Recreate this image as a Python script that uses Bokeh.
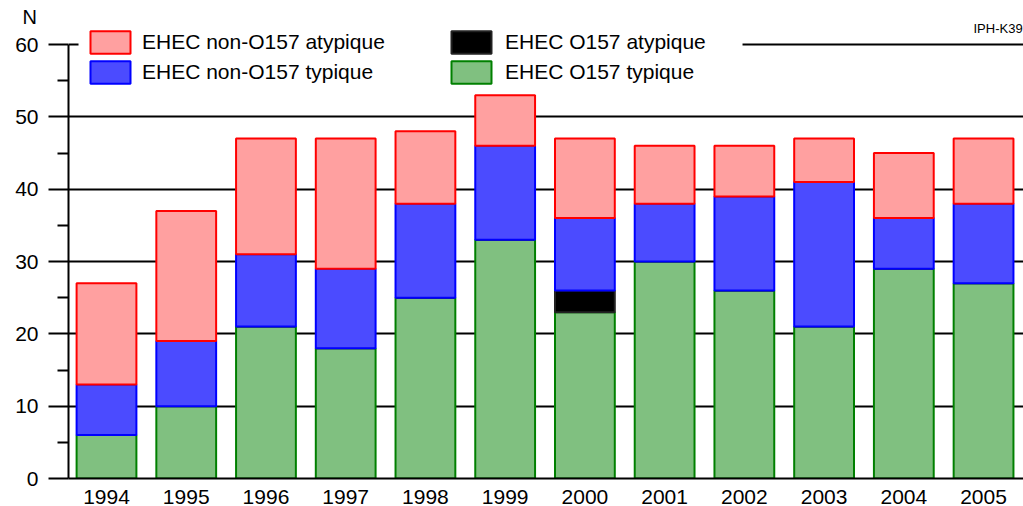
from bokeh.plotting import figure
from bokeh.models import (ColumnDataSource, Range1d, FixedTicker, Legend, LegendItem,
                          BoxAnnotation, Label)
from bokeh.embed import file_html
from bokeh.resources import INLINE

years = ["1994", "1995", "1996", "1997", "1998", "1999", "2000", "2001", "2002", "2003", "2004", "2005"]
o157_typique = [6, 10, 21, 18, 25, 33, 23, 30, 26, 21, 29, 27]
o157_atypique = [0, 0, 0, 0, 0, 0, 3, 0, 0, 0, 0, 0]
non_o157_typique = [7, 9, 10, 11, 13, 13, 10, 8, 13, 20, 7, 11]
non_o157_atypique = [14, 18, 16, 18, 10, 7, 11, 8, 7, 6, 9, 9]
y_ticks = [0, 10, 20, 30, 40, 50, 60]
y_minor = [5, 15, 25, 35, 45, 55]

FONT = "Liberation Sans"
xpos = [int(y) for y in years]
src = ColumnDataSource(dict(x=xpos, o157_typ=o157_typique, o157_atyp=o157_atypique,
                            non_typ=non_o157_typique, non_atyp=non_o157_atypique))

p = figure(width=1023, height=506, output_backend="svg", toolbar_location=None,
           x_range=Range1d(1993.5234, 2005.501), y_range=Range1d(0, 63.32),
           min_border_left=68, min_border_top=20, min_border_right=0, min_border_bottom=28,
           title="N")
p.outline_line_color = None
p.title.text_font = FONT
p.title.text_font_size = "20px"
p.title.text_font_style = "normal"
p.title.text_color = "black"
p.title.align = "left"
p.title.offset = -54
p.title.standoff = -14
p.title.padding = (8, 0, 0, 0)

stack = ["o157_typ", "o157_atyp", "non_typ", "non_atyp"]
fills = ["#80C080", "#000000", "#4B4BFF", "#FFA0A0"]
lines = ["#008000", "#222222", "#0000FF", "#FF0000"]
rs = p.vbar_stack(stack, x="x", width=0.75, source=src, fill_color=fills,
                  line_color=lines, line_width=2)

# axes
p.xaxis.ticker = FixedTicker(ticks=xpos)
p.xaxis.major_label_overrides = {x: y for x, y in zip(xpos, years)}
p.xaxis.major_tick_out = 0
p.xaxis.major_tick_in = 0
p.xaxis.minor_tick_out = 0
p.xaxis.axis_line_width = 2
p.xaxis.axis_line_color = "black"
p.xaxis.major_label_text_font = FONT
p.xaxis.major_label_text_font_size = "21px"
p.xaxis.major_label_text_color = "black"
p.xaxis.major_label_standoff = 11

p.yaxis.ticker = FixedTicker(ticks=y_ticks, minor_ticks=y_minor)
p.yaxis.bounds = (0, 60)
p.yaxis.major_tick_out = 20
p.yaxis.major_tick_in = 0
p.yaxis.minor_tick_out = 11
p.yaxis.minor_tick_in = 0
p.yaxis.major_tick_line_width = 2
p.yaxis.minor_tick_line_width = 2
p.yaxis.axis_line_width = 2
p.yaxis.major_label_text_font = FONT
p.yaxis.major_label_text_font_size = "21px"
p.yaxis.major_label_text_color = "black"
p.yaxis.major_label_standoff = 10

p.xgrid.visible = False
p.ygrid.ticker = FixedTicker(ticks=y_ticks)
p.ygrid.grid_line_color = "black"
p.ygrid.grid_line_width = 2

# white area behind legend hiding the 60 line
p.add_layout(BoxAnnotation(left=1993.649, right=2001.977, bottom=53.92, top=70,
                           fill_color="white", fill_alpha=1, line_color=None))

def mk_legend(items, x, ybottom, standoff):
    return Legend(items=items, location=(x, 478 - ybottom), orientation="vertical",
                  label_text_font=FONT, label_text_font_size="21px", label_text_color="black",
                  glyph_width=50, glyph_height=28, label_standoff=standoff, spacing=2,
                  padding=0, margin=0, background_fill_alpha=0, border_line_color=None)

l1 = mk_legend([LegendItem(label="EHEC non-O157 atypique", renderers=[rs[3]]),
                LegendItem(label="EHEC non-O157 typique", renderers=[rs[2]])], 17, 86, 7)
l2 = mk_legend([LegendItem(label="EHEC O157 atypique", renderers=[rs[1]]),
                LegendItem(label="EHEC O157 typique", renderers=[rs[0]])], 378, 86, 9)
p.add_layout(l1, "center")
p.add_layout(l2, "center")

p.add_layout(Label(x=905, y=478 - 28, x_units="screen", y_units="screen", text="IPH-K39",
                   text_font=FONT, text_font_size="13px", text_baseline="middle",
                   text_color="black"))

open("out.html", "w").write(file_html(p, INLINE))
